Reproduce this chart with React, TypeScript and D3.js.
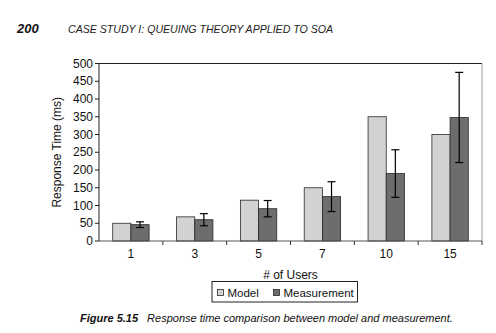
import React from "react";
import * as d3 from "d3";

const categories = ["1", "3", "5", "7", "10", "15"];
const modelValues = [50, 68, 115, 150, 350, 300];
const measurementValues = [46, 60, 91, 125, 190, 348];
const measurementError = [8, 17, 23, 42, 67, 127];
const yTicks = [0, 50, 100, 150, 200, 250, 300, 350, 400, 450, 500];
const seriesNames = ["Model", "Measurement"];

const FONT = "'Liberation Sans', Arial, Helvetica, sans-serif";

export default function App() {
  const W = 496, H = 333;
  const left = 99, right = 482, top = 63.5, bottom = 241;
  const x = d3.scaleBand<string>().domain(categories).range([left, right]).paddingInner(0).paddingOuter(0);
  const y = d3.scaleLinear().domain([0, 500]).range([bottom, top]);
  const bw = x.bandwidth() * 0.285;
  const modelFill = "#d2d2d2";
  const measFill = "#6d6d6d";
  const stroke = "#2a2a2a";

  return (
    <svg width={W} height={H} style={{ position: "absolute", left: 0, top: 0, background: "#fff" }}>
      <rect x={0} y={0} width={W} height={H} fill="#fff" />
      {/* header */}
      <text x={17} y={33} fontFamily={FONT} fontWeight="bold" fontStyle="italic" fontSize={13} fill="#111">200</text>
      <text x={68} y={33} fontFamily={FONT} fontStyle="italic" fontSize={10.5} fill="#222" textLength={265} lengthAdjust="spacingAndGlyphs">CASE STUDY I: QUEUING THEORY APPLIED TO SOA</text>

      {/* plot frame */}
      <line x1={left} x2={right} y1={top} y2={top} stroke="#222" strokeWidth={1} />
      <line x1={right} x2={right} y1={top} y2={bottom} stroke="#999" strokeWidth={1} />

      {/* bars */}
      {categories.map((c, i) => {
        const cx = (x(c) as number) + x.bandwidth() / 2;
        const mx = cx + bw / 2;
        const hi = y(measurementValues[i] + measurementError[i]);
        const lo = y(measurementValues[i] - measurementError[i]);
        return (
          <g key={c}>
            <rect x={cx - bw} y={y(modelValues[i])} width={bw} height={bottom - y(modelValues[i])} fill={modelFill} stroke={stroke} strokeWidth={0.8} />
            <rect x={cx} y={y(measurementValues[i])} width={bw} height={bottom - y(measurementValues[i])} fill={measFill} stroke={stroke} strokeWidth={0.8} />
            <line x1={mx} x2={mx} y1={hi} y2={lo} stroke="#000" strokeWidth={1.2} />
            <line x1={mx - 4} x2={mx + 4} y1={hi} y2={hi} stroke="#000" strokeWidth={1.2} />
            <line x1={mx - 4} x2={mx + 4} y1={lo} y2={lo} stroke="#000" strokeWidth={1.2} />
          </g>
        );
      })}

      {/* y axis */}
      <line x1={left} x2={left} y1={top} y2={bottom} stroke="#222" strokeWidth={1} />
      {yTicks.map((t) => (
        <g key={t}>
          <line x1={left - 4} x2={left} y1={y(t)} y2={y(t)} stroke="#222" strokeWidth={1} />
          <text x={left - 6} y={y(t)} dy="0.35em" textAnchor="end" fontFamily={FONT} fontSize={12} fill="#111">{t}</text>
        </g>
      ))}
      <text transform={`translate(61,${(top + bottom) / 2}) rotate(-90)`} textAnchor="middle" fontFamily={FONT} fontSize={12} fill="#111">Response Time (ms)</text>

      {/* x axis */}
      <line x1={left} x2={right} y1={bottom} y2={bottom} stroke="#555" strokeWidth={1} />
      {categories.map((c, i) => (
        <g key={"xt" + c}>
          {i > 0 && <line x1={x(c) as number} x2={x(c) as number} y1={bottom} y2={bottom + 4} stroke="#333" strokeWidth={1} />}
          <text x={(x(c) as number) + x.bandwidth() / 2} y={bottom + 17} textAnchor="middle" fontFamily={FONT} fontSize={12} fill="#111">{c}</text>
        </g>
      ))}
      <line x1={right} x2={right} y1={bottom} y2={bottom + 4} stroke="#333" strokeWidth={1} />
      <text x={(left + right) / 2} y={279} textAnchor="middle" fontFamily={FONT} fontSize={12} fill="#111"># of Users</text>

      {/* legend */}
      <rect x={212} y={281.5} width={145.5} height={20.5} fill="#fff" stroke="#222" strokeWidth={1} />
      <rect x={217.5} y={289.5} width={6} height={6} fill={modelFill} stroke={stroke} strokeWidth={0.8} />
      <text x={227.5} y={296.5} fontFamily={FONT} fontSize={11.5} fill="#111">{seriesNames[0]}</text>
      <rect x={273.5} y={289.5} width={6} height={6} fill={measFill} stroke={stroke} strokeWidth={0.8} />
      <text x={283.5} y={296.5} fontFamily={FONT} fontSize={11.5} fill="#111">{seriesNames[1]}</text>

      {/* caption */}
      <text x={80} y={322} fontFamily={FONT} fontSize={11} fill="#111">
        <tspan fontWeight="bold" fontStyle="italic">Figure 5.15</tspan>
        <tspan dx={9} fontStyle="italic">Response time comparison between model and measurement.</tspan>
      </text>
    </svg>
  );
}
